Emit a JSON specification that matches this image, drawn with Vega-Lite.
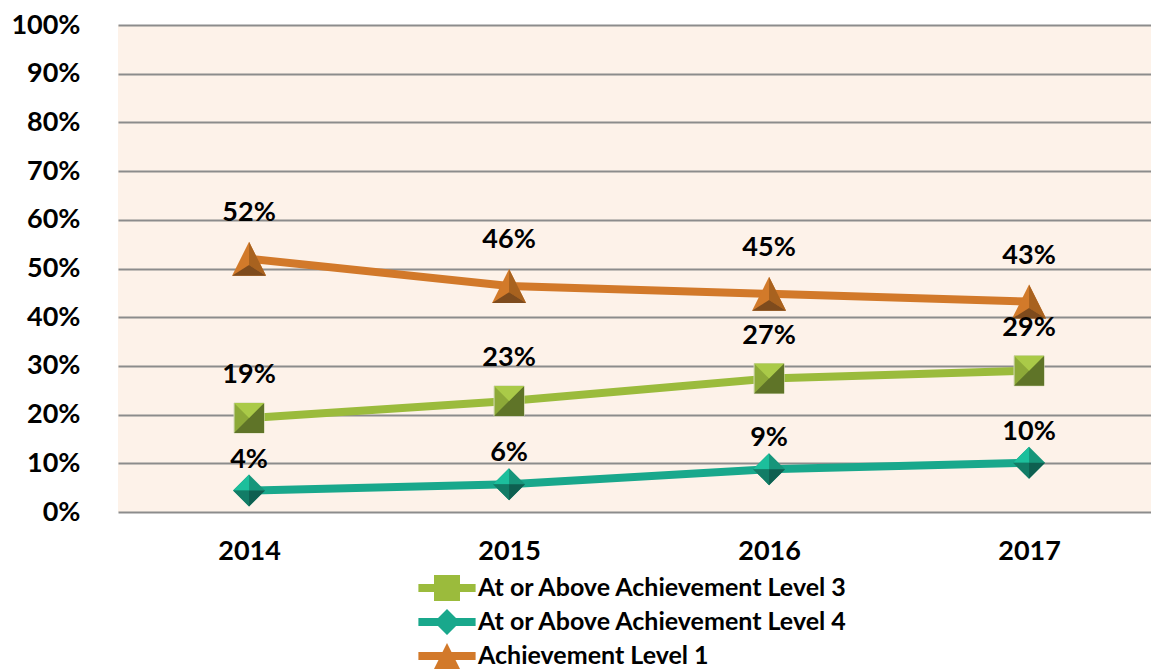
{
  "$schema": "https://vega.github.io/schema/vega-lite/v6.json",
  "width": 1033,
  "height": 487,
  "autosize": "none",
  "padding": {"left": 118, "top": 25, "right": 0, "bottom": 157},
  "background": "white",
  "config": {"view": {"stroke": null, "fill": "#FDF2E9"}, "font": "Lato"},
  "data": {"values": [
    {"year": 2014, "series": "At or Above Achievement Level 3", "value": 0.193},
    {"year": 2015, "series": "At or Above Achievement Level 3", "value": 0.228},
    {"year": 2016, "series": "At or Above Achievement Level 3", "value": 0.274},
    {"year": 2017, "series": "At or Above Achievement Level 3", "value": 0.29},
    {"year": 2014, "series": "At or Above Achievement Level 4", "value": 0.044},
    {"year": 2015, "series": "At or Above Achievement Level 4", "value": 0.057},
    {"year": 2016, "series": "At or Above Achievement Level 4", "value": 0.088},
    {"year": 2017, "series": "At or Above Achievement Level 4", "value": 0.101},
    {"year": 2014, "series": "Achievement Level 1", "value": 0.52},
    {"year": 2015, "series": "Achievement Level 1", "value": 0.464},
    {"year": 2016, "series": "Achievement Level 1", "value": 0.448},
    {"year": 2017, "series": "Achievement Level 1", "value": 0.432}
  ]},
  "encoding": {
    "x": {"field": "year", "type": "quantitative",
      "scale": {"domain": [2013.496, 2017.469], "nice": false, "zero": false},
      "axis": {"title": null, "values": [2014, 2015, 2016, 2017], "format": "d", "labelAngle": 0, "domain": false, "ticks": false, "grid": false,
        "labelFontSize": 27, "labelFontWeight": "bold", "labelColor": "#000", "labelPadding": 26}},
    "y": {"field": "value", "type": "quantitative",
      "scale": {"domain": [0, 1]},
      "axis": {"title": null, "values": [0, 0.1, 0.2, 0.3, 0.4, 0.5, 0.6, 0.7, 0.8, 0.9, 1],
        "format": ".0%", "domain": false, "ticks": false, "grid": true,
        "gridColor": "#8C8C8C", "gridWidth": 2,
        "labelFontSize": 27, "labelFontWeight": "bold", "labelColor": "#000", "labelPadding": 38}}
  },
  "layer": [
    {"transform": [{"filter": "datum.series == 'At or Above Achievement Level 3'"}],
     "mark": {"type": "line", "strokeWidth": 8, "color": "#9BBB3C"}, "encoding": {}},
    {"transform": [{"filter": "datum.series == 'At or Above Achievement Level 4'"}],
     "mark": {"type": "line", "strokeWidth": 8, "color": "#19A88C"}, "encoding": {}},
    {"transform": [{"filter": "datum.series == 'Achievement Level 1'"}],
     "mark": {"type": "line", "strokeWidth": 8, "color": "#D2792A"}, "encoding": {}},
    {"transform": [{"filter": "datum.series == 'At or Above Achievement Level 3'"}],
     "mark": {"type": "point", "filled": true, "opacity": 1, "size": 900, "shape": "M-1,-1H1V1H-1Z", "color": "#8DA938", "stroke": "#D5D9B8", "strokeWidth": 1}},
    {"transform": [{"filter": "datum.series == 'At or Above Achievement Level 3'"}],
     "mark": {"type": "point", "filled": true, "opacity": 1, "size": 900, "shape": "M1,-1L1,1L-1,1Z", "color": "#5F7428"}},
    {"transform": [{"filter": "datum.series == 'At or Above Achievement Level 3'"}],
     "mark": {"type": "point", "filled": true, "opacity": 1, "size": 900, "shape": "M-1,-1L1,-1L0,0Z", "color": "#AACA48"}},
    {"transform": [{"filter": "datum.series == 'At or Above Achievement Level 4'"}],
     "mark": {"type": "point", "filled": true, "opacity": 1, "size": 1024, "shape": "M-1,0L0,-1L1,0L0,1Z", "color": "#17957A"}},
    {"transform": [{"filter": "datum.series == 'At or Above Achievement Level 4'"}],
     "mark": {"type": "point", "filled": true, "opacity": 1, "size": 1024, "shape": "M-1,0L0,-1L0,0Z", "color": "#1CBF9C"}},
    {"transform": [{"filter": "datum.series == 'At or Above Achievement Level 4'"}],
     "mark": {"type": "point", "filled": true, "opacity": 1, "size": 1024, "shape": "M0,1L-1,0L0,0Z", "color": "#127C66"}},
    {"transform": [{"filter": "datum.series == 'At or Above Achievement Level 4'"}],
     "mark": {"type": "point", "filled": true, "opacity": 1, "size": 1024, "shape": "M1,0L0,1L0,0Z", "color": "#0E5F50"}},
    {"transform": [{"filter": "datum.series == 'Achievement Level 1'"}],
     "mark": {"type": "point", "filled": true, "opacity": 1, "size": 1156, "shape": "M0,-1L1,1L-1,1Z", "color": "#D27A2A"}},
    {"transform": [{"filter": "datum.series == 'Achievement Level 1'"}],
     "mark": {"type": "point", "filled": true, "opacity": 1, "size": 1156, "shape": "M0,-1L1,1L0,0.37Z", "color": "#A8621F"}},
    {"transform": [{"filter": "datum.series == 'Achievement Level 1'"}],
     "mark": {"type": "point", "filled": true, "opacity": 1, "size": 1156, "shape": "M-1,1L1,1L0,0.37Z", "color": "#7E4B1D"}},
    {"transform": [{"filter": "datum.series == 'At or Above Achievement Level 3'"}],
     "mark": {"type": "text", "fontSize": 27, "fontWeight": "bold", "color": "#000", "dy": -43, "baseline": "middle"},
     "encoding": {"text": {"field": "value", "type": "quantitative", "format": ".0%"}}},
    {"transform": [{"filter": "datum.series == 'At or Above Achievement Level 4'"}],
     "mark": {"type": "text", "fontSize": 27, "fontWeight": "bold", "color": "#000", "dy": -31, "baseline": "middle"},
     "encoding": {"text": {"field": "value", "type": "quantitative", "format": ".0%"}}},
    {"transform": [{"filter": "datum.series == 'Achievement Level 1'"}],
     "mark": {"type": "text", "fontSize": 27, "fontWeight": "bold", "color": "#000", "dy": -46, "baseline": "middle"},
     "encoding": {"text": {"field": "value", "type": "quantitative", "format": ".0%"}}},
    {"transform": [{"filter": "datum.year < 0"}],
     "mark": {"type": "point", "filled": true, "opacity": 1},
     "encoding": {
       "color": {"field": "series", "type": "nominal",
         "scale": {"domain": ["At or Above Achievement Level 3", "At or Above Achievement Level 4", "Achievement Level 1"],
           "range": ["#9BBB3C", "#19A88C", "#D2792A"]},
         "legend": {"orient": "none", "legendX": 316, "legendY": 550, "title": null, "symbolSize": 676,
           "labelFontSize": 25, "labelFontWeight": "bold", "labelColor": "#000", "labelOffset": 18,
           "rowPadding": 8, "padding": 0, "symbolStrokeWidth": 0, "labelLimit": 0}},
       "shape": {"field": "series", "type": "nominal",
         "scale": {"domain": ["At or Above Achievement Level 3", "At or Above Achievement Level 4", "Achievement Level 1"],
           "range": ["M-2.2,-0.3H2.2V0.3H-2.2Z M-1,-1H1V1H-1Z", "M-2.2,-0.3H2.2V0.3H-2.2Z M0,-1L1,0L0,1L-1,0Z", "M-2.2,-0.3H2.2V0.3H-2.2Z M0,-1L1,1L-1,1Z"]},
         "legend": {"orient": "none", "legendX": 316, "legendY": 550, "title": null, "symbolSize": 676,
           "labelFontSize": 25, "labelFontWeight": "bold", "labelColor": "#000", "labelOffset": 18,
           "rowPadding": 8, "padding": 0, "symbolStrokeWidth": 0, "labelLimit": 0}}
     }}
  ]
}
